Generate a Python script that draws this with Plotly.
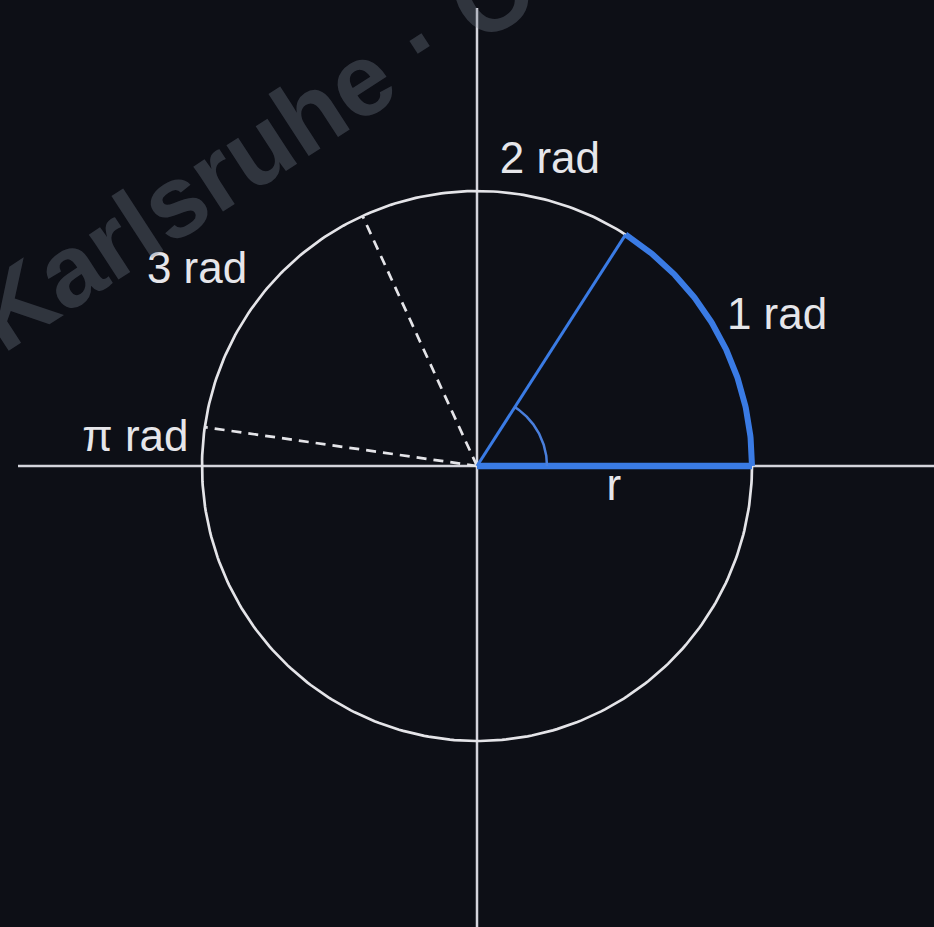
import numpy as np
import plotly.graph_objects as go

# ---- data ----
radius = 1.0
angle_highlight = 1.0            # rad (blue sector)
dashed_angles = [2.0, 3.0]       # rad (dashed radii)
label_texts = ["1 rad", "2 rad", "3 rad", "π rad", "r"]
label_x = [1.091, 0.265, -1.018, -1.242, 0.498]
label_y = [0.538, 1.105, 0.705, 0.095, -0.085]
watermark = "Karlsruhe · Com"

# ---- layout constants ----
W, H = 934, 927
scale = 275.0
cx_px, cy_px = 477.0, 466.0
x_range = [-cx_px / scale, (W - cx_px) / scale]
y_range = [-(H - cy_px) / scale, cy_px / scale]

BG = "#0d0f16"
WHITE = "#e4e4e8"
BLUE = "#3a7be4"

fig = go.Figure()

# watermark (behind everything)
fig.add_annotation(x=(317 - cx_px) / scale, y=(cy_px - 109) / scale, xref="x", yref="y",
                   text="<b>" + watermark + "</b>", showarrow=False, textangle=-33,
                   font=dict(family="Liberation Sans", size=102, color="rgba(120,130,145,0.33)"))

# axes
fig.add_trace(go.Scatter(x=[(18 - cx_px) / scale, x_range[1] + 0.05], y=[0, 0], mode="lines",
                         line=dict(color="#d4d4dc", width=2.5), hoverinfo="skip"))
fig.add_trace(go.Scatter(x=[0, 0], y=[y_range[0] - 0.05, (cy_px - 8) / scale], mode="lines",
                         line=dict(color="#d4d4dc", width=2.5), hoverinfo="skip"))

# circle
t = np.linspace(0, 2 * np.pi, 400)
fig.add_trace(go.Scatter(x=radius * np.cos(t), y=radius * np.sin(t), mode="lines",
                         line=dict(color=WHITE, width=2.7), hoverinfo="skip"))

# dashed radii
for a in dashed_angles:
    fig.add_trace(go.Scatter(x=[0, radius * np.cos(a)], y=[0, radius * np.sin(a)], mode="lines",
                             line=dict(color=WHITE, width=2.7, dash="10px,7px"), hoverinfo="skip"))

# blue radius along x axis
fig.add_trace(go.Scatter(x=[0, radius], y=[0, 0], mode="lines",
                         line=dict(color=BLUE, width=6.5), hoverinfo="skip"))
# blue radius at 1 rad
fig.add_trace(go.Scatter(x=[0, radius * np.cos(angle_highlight)], y=[0, radius * np.sin(angle_highlight)],
                         mode="lines", line=dict(color=BLUE, width=3), hoverinfo="skip"))
# thick arc
ta = np.linspace(0, angle_highlight, 100)
fig.add_trace(go.Scatter(x=radius * np.cos(ta), y=radius * np.sin(ta), mode="lines",
                         line=dict(color=BLUE, width=6), hoverinfo="skip"))
# small angle arc
small_r = 70 / scale
fig.add_trace(go.Scatter(x=small_r * np.cos(ta), y=small_r * np.sin(ta), mode="lines",
                         line=dict(color="#4a7fdc", width=2.5), hoverinfo="skip"))

# labels
fig.add_trace(go.Scatter(x=label_x, y=label_y, mode="text", text=label_texts,
                         textfont=dict(family="Liberation Sans, Arial", size=44, color="#e6e6ea"),
                         textposition="middle center", hoverinfo="skip"))

fig.update_layout(
    width=W, height=H, margin=dict(l=0, r=0, t=0, b=0),
    paper_bgcolor=BG, plot_bgcolor=BG, showlegend=False,
    xaxis=dict(range=x_range, visible=False, showgrid=False, zeroline=False, fixedrange=True),
    yaxis=dict(range=y_range, visible=False, showgrid=False, zeroline=False, fixedrange=True),
)
fig.write_html(
    "out.html",
    config={"displayModeBar": False},
    post_script="document.body.style.margin='0';document.body.style.background='%s';" % BG,
)
